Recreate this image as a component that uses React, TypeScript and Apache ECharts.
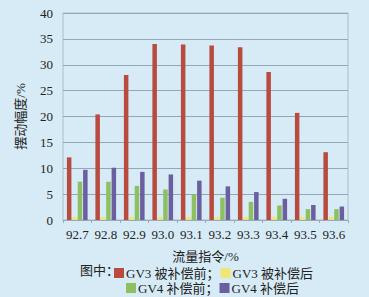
import React, { useEffect, useRef } from "react";
import * as echarts from "echarts";

const categories = ["92.7", "92.8", "92.9", "93.0", "93.1", "93.2", "93.3", "93.4", "93.5", "93.6"];
const gv3Before = [12.1, 20.4, 28.0, 34.0, 33.9, 33.7, 33.4, 28.6, 20.7, 13.1];
const gv3After = [0.6, 0.6, 0.6, 0.6, 0.6, 0.6, 0.6, 0.6, 0.6, 0.6];
const gv4Before = [7.4, 7.4, 6.6, 5.9, 5.0, 4.3, 3.5, 2.8, 2.1, 2.1];
const gv4After = [9.7, 10.1, 9.3, 8.8, 7.6, 6.5, 5.4, 4.1, 2.9, 2.6];
const seriesNames = ["GV3 被补偿前", "GV3 被补偿后", "GV4 补偿前", "GV4 补偿后"];
const barColors = ["#b84a3e", "#efe676", "#8cc063", "#6b5f9f"];
const legendColors = ["#cf5038", "#f4e84f", "#8dc463", "#8c66a6"];

const FONT = "'Liberation Serif', 'Times New Roman', 'Noto Sans CJK SC', serif";

export default function App() {
  const ref = useRef<HTMLDivElement>(null);
  useEffect(() => {
    if (!ref.current) return;
    const chart = echarts.init(ref.current, undefined, { renderer: "svg" });
    const data = [gv3Before, gv3After, gv4Before, gv4After];
    const legendText = { fontFamily: FONT, fontSize: 13, lineHeight: 14, color: "#222", padding: [0, 0, 0, -3] };
    chart.setOption({
      animation: false,
      backgroundColor: "#d7ebf7",
      textStyle: { fontFamily: FONT },
      grid: {
        left: 63,
        right: 21,
        top: 13,
        bottom: 77,
        show: true,
        borderColor: "#a9bccb",
        borderWidth: 1,
      },
      legend: [
        {
          data: [seriesNames[0], seriesNames[1]],
          left: 114,
          top: 266,
          padding: 0,
          itemWidth: 10,
          itemHeight: 10,
          itemGap: 1,
          icon: "rect",
          formatter: (n: string) => (n === seriesNames[0] ? n + "；" : n),
          textStyle: legendText,
        },
        {
          data: [seriesNames[2], seriesNames[3]],
          left: 126,
          top: 281,
          padding: 0,
          itemWidth: 10,
          itemHeight: 10,
          itemGap: 1,
          icon: "rect",
          formatter: (n: string) => (n === seriesNames[2] ? n + "；" : n),
          textStyle: legendText,
        },
      ],
      graphic: [
        {
          type: "text",
          left: 80,
          top: 264,
          style: { text: "图中：", font: "13px " + FONT, fill: "#222" },
        },
      ],
      xAxis: {
        type: "category",
        data: categories,
        name: "流量指令/%",
        nameLocation: "middle",
        nameGap: 30,
        nameTextStyle: { fontFamily: FONT, fontSize: 13, color: "#222" },
        axisLine: { lineStyle: { color: "#9aa9b6" } },
        axisTick: { show: true, length: 3, lineStyle: { color: "#9aa9b6" } },
        axisLabel: { fontFamily: FONT, fontSize: 13, color: "#222", margin: 8, interval: 0 },
      },
      yAxis: {
        type: "value",
        min: 0,
        max: 40,
        interval: 5,
        name: "摆动幅度/%",
        nameLocation: "middle",
        nameGap: 36,
        nameTextStyle: { fontFamily: FONT, fontSize: 13, color: "#222" },
        axisLine: { show: false },
        axisTick: { show: false },
        axisLabel: { fontFamily: FONT, fontSize: 13, color: "#222", margin: 10 },
        splitLine: { lineStyle: { color: "#93a7b7", width: 1 } },
      },
      series: data.map((d, i) => ({
        type: "bar",
        name: seriesNames[i],
        data: d,
        barWidth: 4.5,
        barGap: "20%",
        itemStyle: { color: barColors[i] },
        color: legendColors[i],
      })),
    });
    return () => chart.dispose();
  }, []);
  return <div ref={ref} style={{ width: 369, height: 297, position: "absolute", left: 0, top: 0 }} />;
}
